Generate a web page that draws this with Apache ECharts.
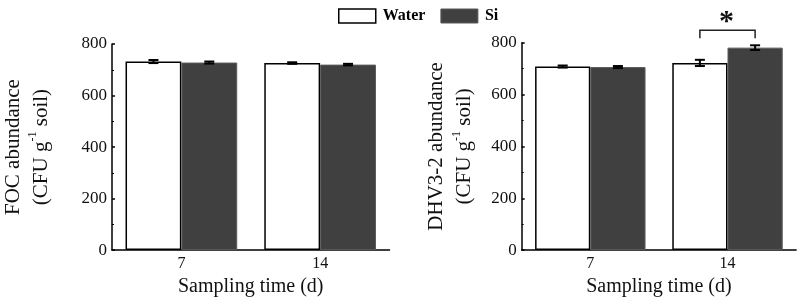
<!DOCTYPE html>
<html>
<head>
<meta charset="utf-8">
<script src="https://cdn.jsdelivr.net/npm/echarts@6/dist/echarts.min.js"></script>
<style>
html,body{margin:0;padding:0;background:#fff;}
#chart{width:799px;height:302px;}
</style>
</head>
<body>
<div id="chart"></div>
<script>
// ---- data ----
const categories = ['7', '14'];
const yTicks = [0, 200, 400, 600, 800];
const focWater = [732, 726];
const focWaterErr = [6, 3];
const focSi = [728, 720];
const focSiErr = [4, 3];
const dhvWater = [708, 722];
const dhvWaterErr = [4, 12];
const dhvSi = [706, 781];
const dhvSiErr = [4, 9];
// significance annotation (right panel, category "14")
const sigCategory = 1;
const sigBracketTop = 848;
const sigBracketLeg = 817;
const sigStarValue = 902;
const sigLabel = '*';

const FONT = "'Liberation Serif', 'Times New Roman', serif";
const GAP = 0.195;

function errData(vals, errs) {
  return vals.map((v, i) => [i, v - errs[i], v + errs[i]]);
}
function errRender(sign) {
  return function (params, api) {
    const cat = api.value(0);
    const lo = api.coord([cat, api.value(1)]);
    const hi = api.coord([cat, api.value(2)]);
    const catW = api.size([1, 0])[0];
    const bw = catW * (1 - GAP) / 2;
    const x = lo[0] + sign * bw / 2;
    const cap = 5;
    const st = { stroke: '#000', lineWidth: 2 };
    return {
      type: 'group',
      children: [
        { type: 'line', shape: { x1: x, y1: lo[1], x2: x, y2: hi[1] }, style: st },
        { type: 'line', shape: { x1: x - cap, y1: lo[1], x2: x + cap, y2: lo[1] }, style: st },
        { type: 'line', shape: { x1: x - cap, y1: hi[1], x2: x + cap, y2: hi[1] }, style: st }
      ]
    };
  };
}
function sigRender(params, api) {
  const cat = api.value(0);
  const top = api.coord([cat, api.value(1)]);
  const leg = api.coord([cat, api.value(2)]);
  const star = api.coord([cat, api.value(3)]);
  const catW = api.size([1, 0])[0];
  const bw = catW * (1 - GAP) / 2;
  const xl = top[0] - bw / 2, xr = top[0] + bw / 2;
  const st = { stroke: '#222', lineWidth: 1.5, fill: null };
  return {
    type: 'group',
    children: [
      { type: 'polyline', shape: { points: [[xl, leg[1]], [xl, top[1]], [xr, top[1]], [xr, leg[1]]] }, style: st },
      { type: 'text', x: (xl + xr) / 2 - 1, y: star[1] + 6, style: { text: sigLabel, font: 'bold 30px ' + FONT, fill: '#111', align: 'center', verticalAlign: 'middle' } }
    ]
  };
}

function yAxis(gridIndex, title, gap) {
  return {
    type: 'value', gridIndex, min: yTicks[0], max: yTicks[yTicks.length - 1], interval: 200,
    axisLine: { show: true, lineStyle: { color: '#000', width: 1.5 } },
    axisTick: { show: true, inside: true, length: 3, lineStyle: { color: '#000', width: 1.5 } },
    minorTick: { show: true, splitNumber: 2, length: 2, lineStyle: { color: '#000', width: 1 } },
    splitLine: { show: false },
    axisLabel: { fontFamily: FONT, fontSize: 17, color: '#111', margin: 5 },
    name: '{a|' + title + '}\n{a|(CFU g}{s|-1}{a| soil)}',
    nameLocation: 'middle', nameRotate: 90, nameGap: gap,
    nameTextStyle: {
      fontFamily: FONT, color: '#111',
      rich: {
        a: { fontFamily: FONT, fontSize: 21, color: '#111', lineHeight: 28 },
        s: { fontFamily: FONT, fontSize: 12, color: '#111', lineHeight: 12, verticalAlign: 'top' }
      }
    }
  };
}
function xAxis(gridIndex) {
  return {
    type: 'category', gridIndex, data: categories,
    axisLine: { show: true, lineStyle: { color: '#000', width: 1.5 } },
    axisTick: { show: false },
    axisLabel: { fontFamily: FONT, fontSize: 16, color: '#111', margin: 6 },
    name: 'Sampling time (d)', nameLocation: 'middle', nameGap: 22,
    nameTextStyle: { fontFamily: FONT, fontSize: 20, color: '#111' }
  };
}
const waterStyle = { color: '#fff', borderColor: '#000', borderWidth: 1.5 };
const siStyle = { color: '#404040', borderColor: '#5a5a5a', borderWidth: 1 };

const option = {
  animation: false,
  backgroundColor: '#fff',
  textStyle: { fontFamily: FONT },
  legend: {
    left: 333, top: 3, itemWidth: 37, itemHeight: 14, itemGap: 15,
    icon: 'rect',
    textStyle: { fontFamily: FONT, fontSize: 16, fontWeight: 'bold', color: '#000', padding: [0, 0, 0, 2] },
    data: [
      { name: 'Water', itemStyle: { color: '#fff', borderColor: '#000', borderWidth: 1.5 } },
      { name: 'Si', itemStyle: { color: '#404040', borderColor: '#5a5a5a', borderWidth: 1 } }
    ]
  },
  grid: [
    { left: 112, top: 44, width: 277.5, height: 209.5 },
    { left: 521.7, top: 42.7, width: 274.4, height: 209.6 }
  ],
  xAxis: [xAxis(0), xAxis(1)],
  yAxis: [yAxis(0, 'FOC abundance', 57), yAxis(1, 'DHV3-2 abundance', 43)],
  series: [
    { name: 'Water', type: 'bar', xAxisIndex: 0, yAxisIndex: 0, data: focWater, barGap: '0%', barCategoryGap: (GAP * 100) + '%', itemStyle: waterStyle },
    { name: 'Si', type: 'bar', xAxisIndex: 0, yAxisIndex: 0, data: focSi, barGap: '0%', barCategoryGap: (GAP * 100) + '%', itemStyle: siStyle },
    { name: 'Water', type: 'bar', xAxisIndex: 1, yAxisIndex: 1, data: dhvWater, barGap: '0%', barCategoryGap: (GAP * 100) + '%', itemStyle: waterStyle },
    { name: 'Si', type: 'bar', xAxisIndex: 1, yAxisIndex: 1, data: dhvSi, barGap: '0%', barCategoryGap: (GAP * 100) + '%', itemStyle: siStyle },
    { type: 'custom', xAxisIndex: 0, yAxisIndex: 0, renderItem: errRender(-1), data: errData(focWater, focWaterErr), encode: { x: 0, y: [1, 2] }, z: 5, clip: false },
    { type: 'custom', xAxisIndex: 0, yAxisIndex: 0, renderItem: errRender(1), data: errData(focSi, focSiErr), encode: { x: 0, y: [1, 2] }, z: 5, clip: false },
    { type: 'custom', xAxisIndex: 1, yAxisIndex: 1, renderItem: errRender(-1), data: errData(dhvWater, dhvWaterErr), encode: { x: 0, y: [1, 2] }, z: 5, clip: false },
    { type: 'custom', xAxisIndex: 1, yAxisIndex: 1, renderItem: errRender(1), data: errData(dhvSi, dhvSiErr), encode: { x: 0, y: [1, 2] }, z: 5, clip: false },
    { type: 'custom', xAxisIndex: 1, yAxisIndex: 1, renderItem: sigRender, data: [[sigCategory, sigBracketTop, sigBracketLeg, sigStarValue]], encode: { x: 0, y: [1, 2] }, z: 5, clip: false }
  ]
};
const chart = echarts.init(document.getElementById('chart'), null, { renderer: 'canvas' });
chart.setOption(option);
</script>
</body>
</html>
